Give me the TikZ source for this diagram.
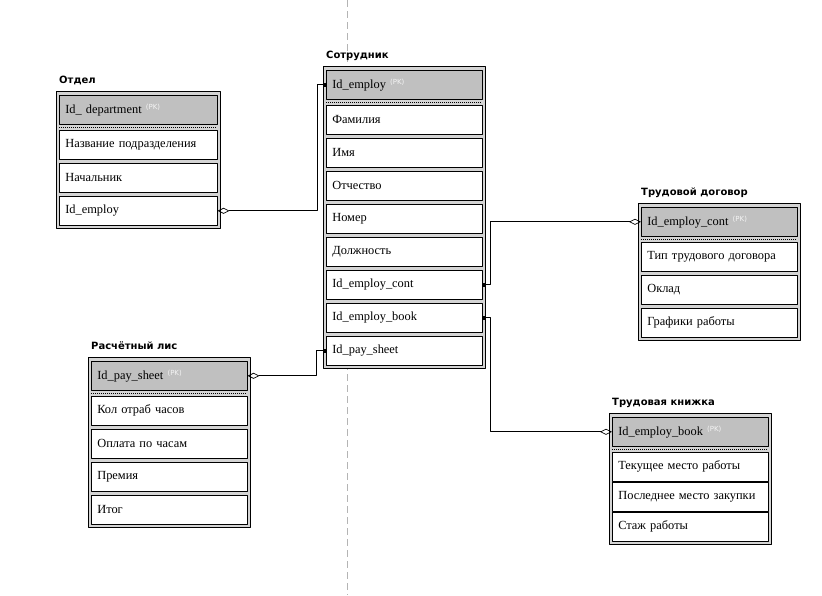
\documentclass[tikz,border=0pt]{standalone}
\usepackage{fontspec}
\setmainfont{Liberation Serif}
\newfontfamily\titlefont{DejaVu Sans}
\usetikzlibrary{arrows.meta}
\definecolor{framegray}{HTML}{D4D4D4}
\definecolor{pkgray}{HTML}{C0C0C0}
\definecolor{pkwhite}{HTML}{F4F4F4}
\definecolor{guidegray}{HTML}{B4B4B4}
\tikzset{
  tblframe/.style={draw=black,fill=framegray,line width=0.8pt},
  rowcell/.style={draw=black,fill=white,line width=0.6pt,anchor=north west,minimum height=29pt,
    inner xsep=6pt,inner ysep=0pt,align=left,font=\fontsize{12.4}{14}\selectfont},
  pkcell/.style={rowcell,fill=pkgray},
  tbltitle/.style={anchor=base west,inner sep=0pt,font=\titlefont\bfseries\fontsize{10}{12}\selectfont},
  fk/.style={line width=0.7pt,{Square[length=3pt,width=3pt]}-{Diamond[open,length=12pt,width=6pt]}},
  guide/.style={guidegray,line width=0.6pt,dash pattern=on 7pt off 4pt},
}
\def\pk{~\raisebox{4pt}{\titlefont\fontsize{7}{7}\selectfont\color{pkwhite}(PK)}}
\begin{document}
\begin{tikzpicture}[x=1pt,y=-1pt,line join=round]
		\useasboundingbox (0,0) rectangle (822,595);
		\draw[guide] (347,0) -- (347,595);
		% name, title, left, right, top, pitch, rows, key, fields
		\def\ertable#1#2#3#4#5#6#7#8#9{
			\pgfmathsetmacro\w{#4-#3-6}
			\pgfmathsetmacro\tw{#4-#3-18}
			\node[tbltitle] (#1t) at ({#3+3},{#5-8}) {#2};
			\draw[tblframe] (#3,#5) rectangle (#4,{#5+71+#6*(#7-1)});
			\node[pkcell,minimum width=\w pt,text width=\tw pt] (#1pk) at ({#3+3},{#5+4}) {#8};
			\draw[line width=0.6pt,dash pattern=on 1pt off 1pt] ({#3+3},{#5+36}) -- ({#4-3},{#5+36});
			\foreach \r [count=\k] in {#9}
				\node[rowcell,minimum width=\w pt,text width=\tw pt] (#1\k) at ({#3+3},{#5+39+#6*(\k-1)}) {\r};
		}
		\ertable{dep}{Отдел}{56}{220}{91}{33}{3}{Id\_ department\pk}
			{Название подразделения,Начальник,Id\_employ}
		\ertable{emp}{Сотрудник}{323}{485}{66}{33}{8}{Id\_employ\pk}
			{Фамилия,Имя,Отчество,Номер,Должность,Id\_employ\_cont,Id\_employ\_book,Id\_pay\_sheet}
		\ertable{ctr}{Трудовой договор}{638}{800}{203}{33}{3}{Id\_employ\_cont\pk}
			{Тип трудового договора,Оклад,Графики работы}
		\ertable{pay}{Расчётный лис}{88}{250}{357}{33}{4}{Id\_pay\_sheet\pk}
			{Кол отраб часов,Оплата по часам,Премия,Итог}
		\ertable{bk}{Трудовая книжка}{609}{771}{413}{30}{3}{Id\_employ\_book\pk}
			{Текущее место работы,Последнее место закупки,Стаж работы}
		% links
		\draw[fk] (emppk.west) -- ++(-9,0) |- (dep3.east);
		\draw[fk] (emp6.east) -- ++(8,0) |- (ctrpk.west);
		\draw[fk] (emp7.east) -- ++(8,0) |- (bkpk.west);
		\draw[fk] (emp8.west) -- ++(-10,0) |- (paypk.east);
\end{tikzpicture}
\end{document}
